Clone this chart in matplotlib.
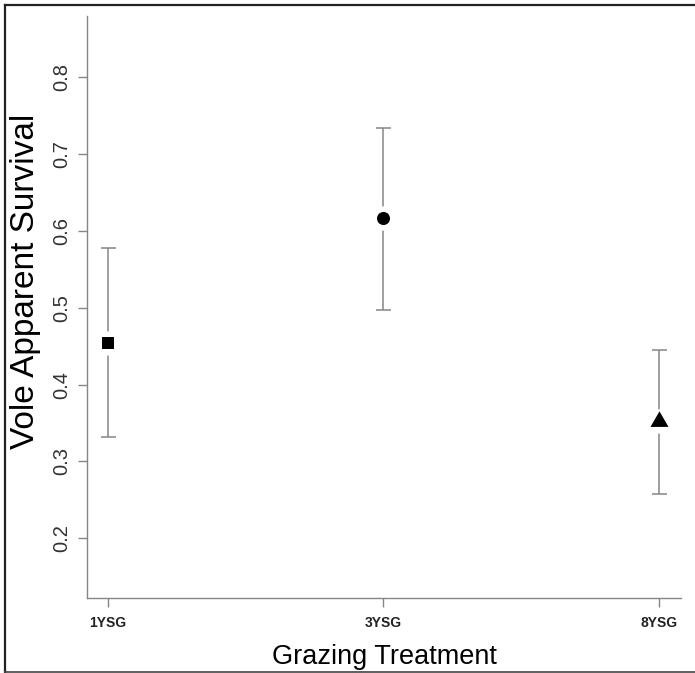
import matplotlib
matplotlib.use("Agg")
import matplotlib.pyplot as plt
from matplotlib.lines import Line2D
import numpy as np

plt.rcParams['font.family'] = ['Liberation Sans', 'DejaVu Sans']

categories = ["1YSG", "3YSG", "8YSG"]
survival = [0.454, 0.617, 0.353]
upper_ci = [0.577, 0.734, 0.4445]
lower_ci = [0.332, 0.497, 0.258]
yticks = [0.2, 0.3, 0.4, 0.5, 0.6, 0.7, 0.8]

W, H = 695, 673
fig = plt.figure(figsize=(W / 100, H / 100), dpi=100)
ax = fig.add_axes([87 / W, (H - 598) / H, 594 / W, 582 / H])

x = np.arange(1, len(categories) + 1)
surv = np.array(survival)
yerr = np.vstack([surv - np.array(lower_ci), np.array(upper_ci) - surv])

gray = '#858585'
ax.errorbar(x, surv, yerr=yerr, fmt='none', ecolor=gray, elinewidth=1.1,
            capsize=5.4, capthick=1.1, zorder=2)
# white halo to create the gap around each point
ax.plot(x, surv, linestyle='none', marker='o', markersize=16.5,
        markerfacecolor='white', markeredgecolor='white', zorder=3)

tri = [(-1, -0.6), (1, -0.6), (0, 1.13), (-1, -0.6)]
markers = ['s', 'o', tri]
sizes = [8.6, 9.4, 14.7]
for xi, yi, m, s in zip(x, surv, markers, sizes):
    ax.plot([xi], [yi], linestyle='none', marker=m, markersize=s,
            color='black', markeredgewidth=0, zorder=4)

ax.set_xlim(0.924, 3.08)
ax.set_ylim(0.1225, 0.8793)
ax.set_xticks(x)
ax.set_xticklabels(categories, fontsize=10, fontweight='bold', color='#222222')
ax.set_yticks(yticks)
ax.set_yticklabels([f"{v:.1f}" for v in yticks], fontsize=14.5, color='#333333',
                   rotation=90, va='center')

for side in ['top', 'right']:
    ax.spines[side].set_visible(False)
for side in ['left', 'bottom']:
    ax.spines[side].set_color(gray)
    ax.spines[side].set_linewidth(1.0)

ax.tick_params(axis='both', direction='out', length=6.5, width=1.0, color=gray)
ax.tick_params(axis='y', pad=4.5)
ax.tick_params(axis='x', pad=6.8)

ax.set_xlabel("Grazing Treatment", fontsize=19.5, color='black')
ax.xaxis.label.set_va('baseline')
ax.xaxis.set_label_coords(0.5, (598 - 664) / 582)
ax.set_ylabel("Vole Apparent Survival", fontsize=24, color='black')
ax.yaxis.label.set_va('baseline')
ax.yaxis.set_label_coords((34 - 87) / 594, (598 - 281.5) / 582)

# outer frame lines
fx0 = 5 / W
fy_top = 1 - 4.5 / H
fy_bot = 1 - 671.5 / H
fig.add_artist(Line2D([fx0, 1], [fy_top, fy_top], transform=fig.transFigure,
                      color='#222222', linewidth=1.6))
fig.add_artist(Line2D([fx0, fx0], [fy_bot, fy_top], transform=fig.transFigure,
                      color='#222222', linewidth=1.6))
fig.add_artist(Line2D([fx0, 1], [fy_bot, fy_bot], transform=fig.transFigure,
                      color='#444444', linewidth=1.2))

fig.savefig("out.png", dpi=100)
